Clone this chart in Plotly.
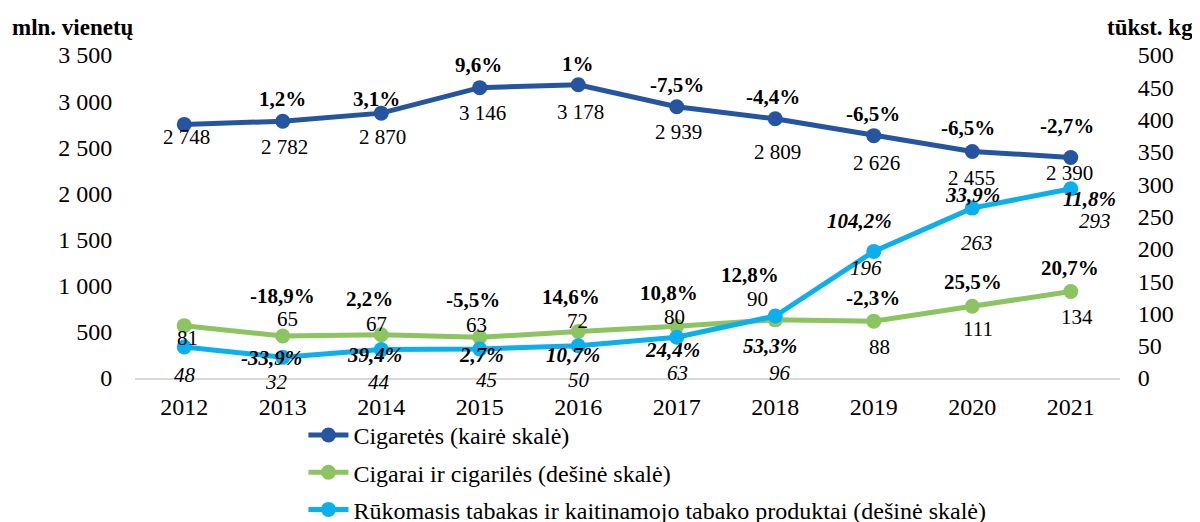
import plotly.graph_objects as go

years = [2012, 2013, 2014, 2015, 2016, 2017, 2018, 2019, 2020, 2021]

cigaretes = [2748, 2782, 2870, 3146, 3178, 2939, 2809, 2626, 2455, 2390]
cigarai = [81, 65, 67, 63, 72, 80, 90, 88, 111, 134]
tabakas = [48, 32, 44, 45, 50, 63, 96, 196, 263, 293]

cigaretes_pct = [None, '1,2%', '3,1%', '9,6%', '1%', '-7,5%', '-4,4%', '-6,5%', '-6,5%', '-2,7%']
cigarai_pct = [None, '-18,9%', '2,2%', '-5,5%', '14,6%', '10,8%', '12,8%', '-2,3%', '25,5%', '20,7%']
tabakas_pct = [None, '-33,9%', '39,4%', '2,7%', '10,7%', '24,4%', '53,3%', '104,2%', '33,9%', '11,8%']

names = ['Cigaretės (kairė skalė)',
         'Cigarai ir cigarilės (dešinė skalė)',
         'Rūkomasis tabakas ir kaitinamojo tabako produktai (dešinė skalė)']

# label offsets from the marker, in pixels (dx right, dy down)
cig_val_off = [(2, 13), (2, 26), (1, 24), (3, 25), (2, 27), (2, 25), (2, 33), (3, 27), (-1, 27), (-1, 16)]
cig_pct_off = [None, (0, -22), (-5, -14), (-1, -23), (0, -21), (0, -22), (-2, -22), (-1, -22), (-4, -23), (-4, -31)]
cgr_val_off = [(3, 12), (5, -17), (-5, -11), (-3, -12), (-1, -10), (-2, -9), (-18, -21), (6, 26), (6, 23), (6, 26)]
cgr_pct_off = [None, (0, -40), (-12, -36), (-7, -37), (-7, -34), (-8, -33), (-25, -45), (-1, -23), (1, -24), (-1, -23)]
tab_val_off = [(1, 28), (-6, 25), (-2, 32), (7, 31), (1, 34), (1, 36), (5, 57), (-8, 17), (5, 35), (24, 32)]
tab_pct_off = [None, (-11, 1), (-7, 5), (2, 6), (-5, 9), (-4, 13), (-5, 30), (-14, -30), (0, -13), (19, 10)]

c_blue = '#2555a0'
c_green = '#8dc462'
c_cyan = '#0ab0ee'
FONT = "'Liberation Serif', 'Times New Roman', Times, serif"


def fmt(v):
    return f'{v:,}'.replace(',', ' ')


fig = go.Figure()
series = [
    (cigaretes, c_blue, 'y', names[0]),
    (cigarai, c_green, 'y2', names[1]),
    (tabakas, c_cyan, 'y2', names[2]),
]
for i, (vals, col, ax, nm) in enumerate(series):
    fig.add_trace(go.Scatter(
        x=years, y=vals, name=nm, yaxis=ax, mode='lines+markers',
        line=dict(color=col, width=5), marker=dict(color=col, size=15),
        legendgroup=f'g{i}', cliponaxis=False,
    ))

annotations = []


def add_labels(vals, texts, offs, yref, size=21):
    for yr, v, t, o in zip(years, vals, texts, offs):
        if t is None:
            continue
        annotations.append(dict(
            x=yr, y=v, xref='x', yref=yref, text=t, showarrow=False,
            xshift=o[0], yshift=-o[1],
            font=dict(family=FONT, size=size, color='#000000'),
        ))


add_labels(cigaretes, [fmt(v) for v in cigaretes], cig_val_off, 'y')
add_labels(cigaretes, [t and f'<b>{t}</b>' for t in cigaretes_pct], cig_pct_off, 'y')
add_labels(cigarai, [str(v) for v in cigarai], cgr_val_off, 'y2')
add_labels(cigarai, [t and f'<b>{t}</b>' for t in cigarai_pct], cgr_pct_off, 'y2')
add_labels(tabakas, [f'<i>{v}</i>' for v in tabakas], tab_val_off, 'y2')
add_labels(tabakas, [t and f'<b><i>{t}</i></b>' for t in tabakas_pct], tab_pct_off, 'y2')

# the page adds an 8px body margin, so the figure is 8px smaller and shifted
# plot area in figure pixels: x 127..1112, y 47..370
L, T, W, H = 127, 47, 985, 323
annotations.append(dict(x=(2 - L) / W, y=(370 - 19) / H, xref='paper', yref='paper',
                        text='<b>mln. vienetų</b>', showarrow=False,
                        xanchor='left', yanchor='middle',
                        font=dict(family=FONT, size=23, color='#000000')))
annotations.append(dict(x=(1187 - L) / W, y=(370 - 19) / H, xref='paper', yref='paper',
                        text='<b>tūkst. kg</b>', showarrow=False,
                        xanchor='right', yanchor='middle',
                        font=dict(family=FONT, size=23, color='#000000')))

fig.update_layout(
    width=1192, height=514,
    margin=dict(l=L, r=1192 - L - W, t=T, b=514 - T - H, autoexpand=False),
    plot_bgcolor='white', paper_bgcolor='white',
    font=dict(family=FONT, size=24, color='#000000'),
    separators=', ',
    showlegend=True,
    legend=dict(
        x=0.171, y=-0.108, xanchor='left', yanchor='top',
        font=dict(family=FONT, size=24, color='#000000'),
        tracegroupgap=3, itemwidth=40, bgcolor='rgba(0,0,0,0)',
    ),
    xaxis=dict(
        range=[2011.5, 2021.5], dtick=1, tickformat='d', showgrid=False, showline=True,
        linecolor='#d9d9d9', linewidth=2, ticks='outside', ticklen=6,
        tickcolor='rgba(0,0,0,0)', tickfont=dict(family=FONT, size=24), zeroline=False,
    ),
    yaxis=dict(
        range=[0, 3500], dtick=500, tickformat=',d', showgrid=False, zeroline=False,
        showline=False, ticks='outside', ticklen=17, tickcolor='rgba(0,0,0,0)',
        tickfont=dict(family=FONT, size=24),
    ),
    yaxis2=dict(
        range=[0, 500], dtick=50, overlaying='y', side='right', showgrid=False,
        zeroline=False, showline=False, ticks='outside', ticklen=12,
        tickcolor='rgba(0,0,0,0)', tickfont=dict(family=FONT, size=24),
    ),
    annotations=annotations,
)

fig.write_html('out.html')
